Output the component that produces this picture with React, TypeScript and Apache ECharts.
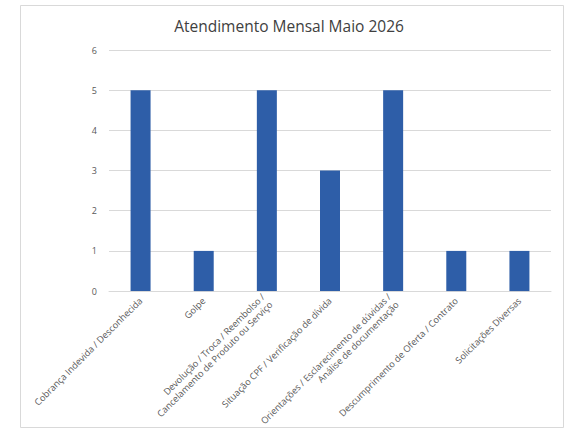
import React, { useEffect, useRef } from "react";
import * as echarts from "echarts";

const categories = [
  "Cobrança Indevida / Desconhecida",
  "Golpe",
  "Devolução / Troca / Reembolso /\nCancelamento de Produto ou Serviço",
  "Situação CPF / Verificação de dívida",
  "Orientações / Esclarecimento de dúvidas /\nAnálise de documentação",
  "Descumprimento de Oferta / Contrato",
  "Solicitações Diversas",
];
const values = [5, 1, 5, 3, 5, 1, 1];
const title = "Atendimento Mensal Maio 2026";

export default function App() {
  const ref = useRef<HTMLDivElement>(null);
  useEffect(() => {
    if (!ref.current) return;
    const chart = echarts.init(ref.current, null, { renderer: "svg" });
    chart.setOption({
      animation: false,
      backgroundColor: "#ffffff",
      textStyle: { fontFamily: "Open Sans" },
      title: {
        text: title,
        left: 284,
        top: 13,
        textAlign: "center",
        textStyle: { fontSize: 15.5, fontWeight: "normal", color: "#404040", fontFamily: "Open Sans" },
      },
      graphic: [
        {
          type: "rect",
          shape: { x: 20.5, y: 5.5, width: 543, height: 422 },
          style: { fill: "none", stroke: "#d9d9d9", lineWidth: 1 },
          silent: true,
        },
      ],
      grid: { left: 109, top: 50, width: 442, height: 242 },
      xAxis: {
        type: "category",
        data: categories,
        axisLine: { show: true, lineStyle: { color: "#d9d9d9" } },
        axisTick: { show: false },
        axisLabel: {
          interval: 0,
          rotate: 45,
          fontSize: 9.2,
          color: "#595959",
          lineHeight: 11,
          margin: 8,
        },
      },
      yAxis: {
        type: "value",
        min: 0,
        max: 6,
        interval: 1,
        axisLine: { show: false },
        axisTick: { show: false },
        axisLabel: { fontSize: 9, color: "#595959", margin: 12 },
        splitLine: { lineStyle: { color: "#d9d9d9" } },
      },
      series: [
        {
          type: "bar",
          data: values,
          barWidth: 20,
          itemStyle: { color: "#2e5ea8" },
        },
      ],
    });
    return () => chart.dispose();
  }, []);
  return (
    <div
      ref={ref}
      style={{ position: "absolute", left: 0, top: 0, width: 577, height: 436 }}
    />
  );
}
